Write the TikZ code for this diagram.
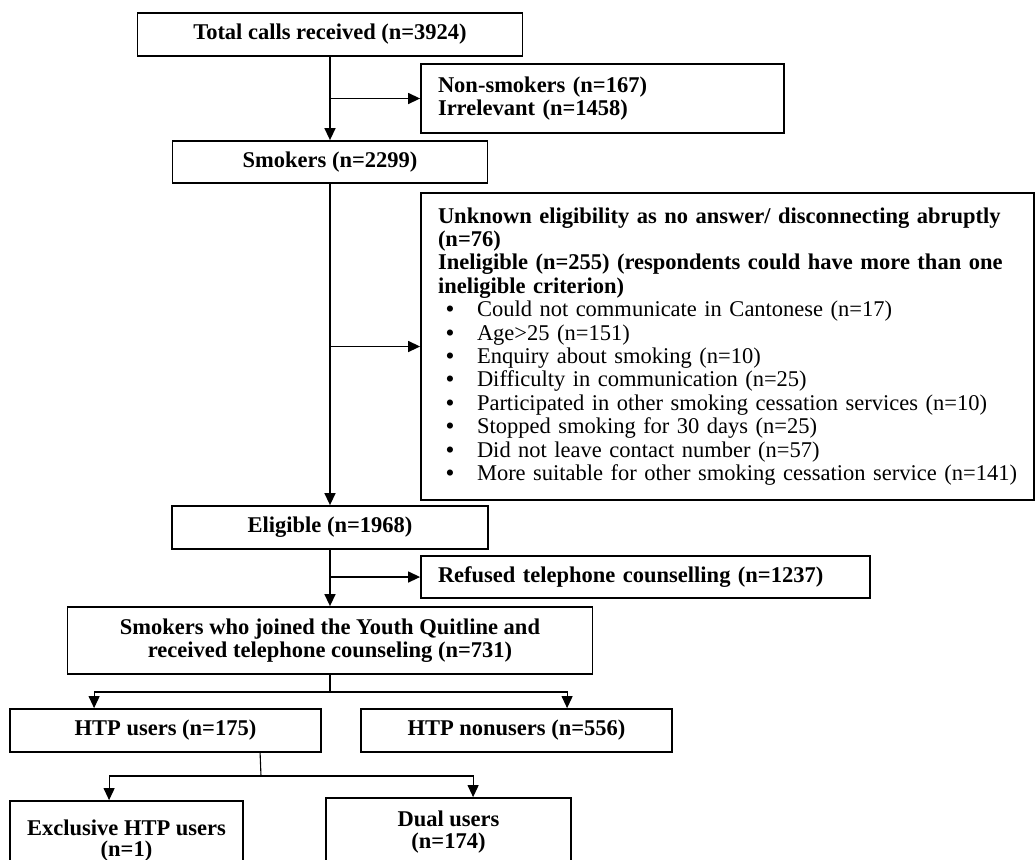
\documentclass[tikz,border=0pt]{standalone}
\usepackage{fontspec}
\setmainfont{Liberation Serif}
\usetikzlibrary{arrows.meta, calc}
\tikzset{
>={Triangle[length=6pt,width=5.5pt]}, % filled arrow heads
box/.style={draw, line width=0.9pt, inner sep=0pt, align=center,
  font=\fontsize{11.25}{11.7}\selectfont\bfseries}, % every box of the chart
leftbox/.style={box, align=left, inner xsep=8.5pt}, % boxes with text set flush left
link/.style={line width=0.7pt}, % upper connectors
thin link/.style={line width=0.55pt}, % lower connectors
}
\newcommand{\itm}[1]{\\\hspace*{4pt}\makebox[15.5pt][l]{\bfseries\textbullet}\mbox{#1}}

\begin{document}
\begin{tikzpicture}[x=0.5pt, y=-0.5pt]
  \useasboundingbox (0,0) rectangle (1035,859);
  \clip (0,0) rectangle (1035,859);
  % main column
  \node[box, minimum width=192.5pt, minimum height=21.5pt] (total) at (330,34.5) {Total calls received (n=3924)};
  \node[box, minimum width=157.5pt, minimum height=21pt] (smokers) at (330,162) {Smokers (n=2299)};
  \node[box, minimum width=158pt, minimum height=21.5pt] (eligible) at (330,527.5) {Eligible (n=1968)};
  \node[box, minimum width=262.5pt, minimum height=33.5pt] (joined) at (330,640.5) {Smokers who joined the Youth Quitline and\\received telephone counseling (n=731)};
  % exclusions
  \node[leftbox, text width=164.5pt, minimum height=34.5pt] (nonsmk) at (602.5,98.5) {Non-smokers (n=167)\\Irrelevant (n=1458)};
  \node[leftbox, text width=289.5pt, minimum height=153.5pt] (inelig) at (727.5,346.5) {%
    \mbox{Unknown eligibility as no answer/ disconnecting abruptly}\\
    (n=76)\\
    \mbox{Ineligible (n=255) (respondents could have more than one}\\
    ineligible criterion)\mdseries
    \itm{Could not communicate in Cantonese (n=17)}
    \itm{Age>25 (n=151)}
    \itm{Enquiry about smoking (n=10)}
    \itm{Difficulty in communication (n=25)}
    \itm{Participated in other smoking cessation services (n=10)}
    \itm{Stopped smoking for 30 days (n=25)}
    \itm{Did not leave contact number (n=57)}
    \itm{More suitable for other smoking cessation service (n=141)}};
  \node[leftbox, text width=207.5pt, minimum height=21pt] (refused) at (645.5,577) {Refused telephone counselling (n=1237)};
  % user groups
  \node[box, minimum width=155.5pt, minimum height=21.5pt] (htpu) at (165.5,730.5) {HTP users (n=175)};
  \node[box, minimum width=155.5pt, minimum height=21.5pt] (htpn) at (516.5,730.5) {HTP nonusers (n=556)};
  \node[box, minimum width=116.5pt, minimum height=39.5pt,
    font=\fontsize{11.25}{10.5}\selectfont\bfseries] (excl) at (126.5,840.5) {Exclusive HTP users\\(n=1)};
  \node[box, minimum width=122.5pt, minimum height=34pt,
    font=\fontsize{11.25}{11}\selectfont\bfseries] (dual) at (448.5,832) {Dual users\\(n=174)};
  % connectors
  \draw[link, ->] (total.south) -- (smokers.north);
  \draw[link, ->] (nonsmk.west -| total.south) -- (nonsmk.west);
  \draw[link, ->] (smokers.south) -- (eligible.north);
  \draw[link, ->] (inelig.west -| smokers.south) -- (inelig.west);
  \draw[link, ->] (eligible.south) -- (joined.north);
  \draw[link, ->] (refused.west -| eligible.south) -- (refused.west);
  \coordinate (split) at (330,692);
  \draw[thin link] (joined.south) -- (split);
  \draw[thin link, ->] (split) -| ($(htpu.north west)+(85,0)$);
  \draw[thin link, ->] (split) -| ($(htpn.north west)+(207,0)$);
  \coordinate (usplit) at (261,776);
  \draw[thin link] ($(htpu.south west)+(251,0)$) -- (usplit);
  \draw[thin link, ->] (usplit) -| ($(excl.north west)+(100,0)$);
  \draw[thin link, ->] (usplit) -| ($(dual.north west)+(148,0)$);
\end{tikzpicture}
\end{document}
